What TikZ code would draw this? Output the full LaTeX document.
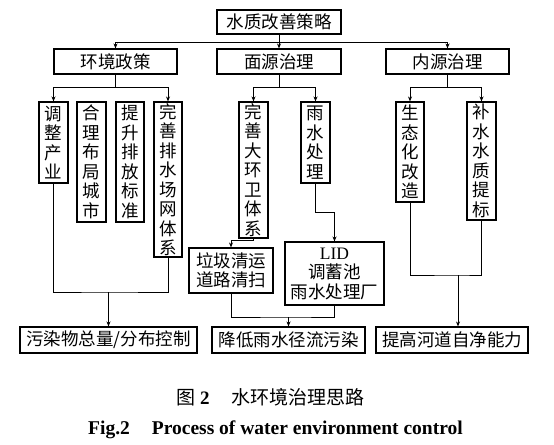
\documentclass[tikz,border=0pt]{standalone}
\usepackage{fontspec}
\setmainfont{Liberation Serif}
\newfontfamily\cjk{Noto Sans CJK SC}
\usetikzlibrary{arrows.meta}
\begin{document}
\begin{tikzpicture}[x=1bp,y=-1bp,
  box/.style={draw,line width=1.1bp,inner sep=0pt,align=center,
    font=\cjk\fontsize{17.5bp}{19.5bp}\selectfont},
  ln/.style={line width=1bp},
  arr/.style={line width=1bp,-{Stealth[length=5bp,width=4bp]}}]
\useasboundingbox (0,0) rectangle (554,445);
% level 0/1
\node[box,minimum width=124bp,minimum height=24bp] (top) at (279,22) {水质改善策略};
\node[box,minimum width=123bp,minimum height=25bp] (env) at (115.5,61.5) {环境政策};
\node[box,minimum width=124bp,minimum height=25bp] (mian) at (279,61.5) {面源治理};
\node[box,minimum width=123bp,minimum height=25bp] (nei) at (447.5,61.5) {内源治理};
% level 2
\node[box,minimum width=29bp,minimum height=81bp] (b1) at (53.5,142.5) {调\\整\\产\\业};
\node[box,minimum width=29bp,minimum height=120bp] (b2) at (91.5,162) {合\\理\\布\\局\\城\\市};
\node[box,minimum width=28bp,minimum height=120bp] (b3) at (130,162) {提\\升\\排\\放\\标\\准};
\node[box,minimum width=28bp,minimum height=155bp] (b4) at (168,179.5) {完\\善\\排\\水\\场\\网\\体\\系};
\node[box,minimum width=29bp,minimum height=136bp] (b5) at (253.5,170) {完\\善\\大\\环\\卫\\体\\系};
\node[box,minimum width=29bp,minimum height=81bp] (b6) at (315.5,142.5) {雨\\水\\处\\理};
\node[box,minimum width=28bp,minimum height=100bp] (b7) at (410,152) {生\\态\\化\\改\\造};
\node[box,minimum width=29bp,minimum height=118bp] (b8) at (481.5,161) {补\\水\\水\\质\\提\\标};
% level 3
\node[box,minimum width=84bp,minimum height=45bp] (g) at (231,270.5) {垃圾清运\\道路清扫};
\node[box,minimum width=99bp,minimum height=63bp] (lid) at (334.5,273.5) {{\rmfamily LID}\\调蓄池\\雨水处理厂};
% results
\node[box,minimum width=177bp,minimum height=26bp] (r1) at (108.5,340) {污染物总量/分布控制};
\node[box,minimum width=153bp,minimum height=26bp] (r2) at (288.5,340) {降低雨水径流污染};
\node[box,minimum width=152bp,minimum height=26bp] (r3) at (452,340) {提高河道自净能力};
% junctions
\coordinate (j0) at (279,43);
\coordinate (j1) at (115.5,88);
\coordinate (j2) at (279,88);
\coordinate (j3) at (447.5,88);
\coordinate (k1) at (108.5,292);
\coordinate (k5) at (253.5,241);
\coordinate (k6) at (315.5,213);
\coordinate (k2) at (288.5,317);
\coordinate (k3) at (458,275);
% connectors
\draw[arr] (top.south) -- (mian.north);
\draw[arr] (j0) -| (env.north);
\draw[arr] (j0) -| (nei.north);
\draw[ln] (env.south) -- (j1);
\draw[arr] (j1) -| (b1.north);
\draw[arr] (j1) -| (b4.north);
\draw[ln] (mian.south) -- (j2);
\draw[arr] (j2) -| (b5.north);
\draw[arr] (j2) -| (b6.north);
\draw[ln] (nei.south) -- (j3);
\draw[arr] (j3) -| (b7.north);
\draw[arr] (j3) -| (b8.north);
\draw[ln] (b1.south) |- (k1) -| (b4.south);
\draw[arr] (k1) -- (r1.north);
\draw[ln] (b5.south) -- (k5);
\draw[arr] (k5) -| (g.north);
\draw[ln] (b6.south) -- (k6);
\draw[arr] (k6) -| (lid.north);
\draw[ln] (g.south) |- (k2) -| (lid.south);
\draw[arr] (k2) -- (r2.north);
\draw[ln] (b7.south) |- (k3) -| (b8.south);
\draw[arr] (k3) -- (k3 |- r3.north);
% caption
\node[inner sep=0pt,anchor=west,font=\cjk\fontsize{19bp}{20bp}\selectfont] (cap1) at (176,397) {图\hspace{5bp}{\rmfamily\bfseries 2}\hspace{22bp}水环境治理思路};
\node[inner sep=0pt,anchor=west,font=\rmfamily\bfseries\fontsize{19.5bp}{20bp}\selectfont] (cap2) at (88,430) {Fig.2\hspace{22bp}Process of water environment control};
\end{tikzpicture}
\end{document}
